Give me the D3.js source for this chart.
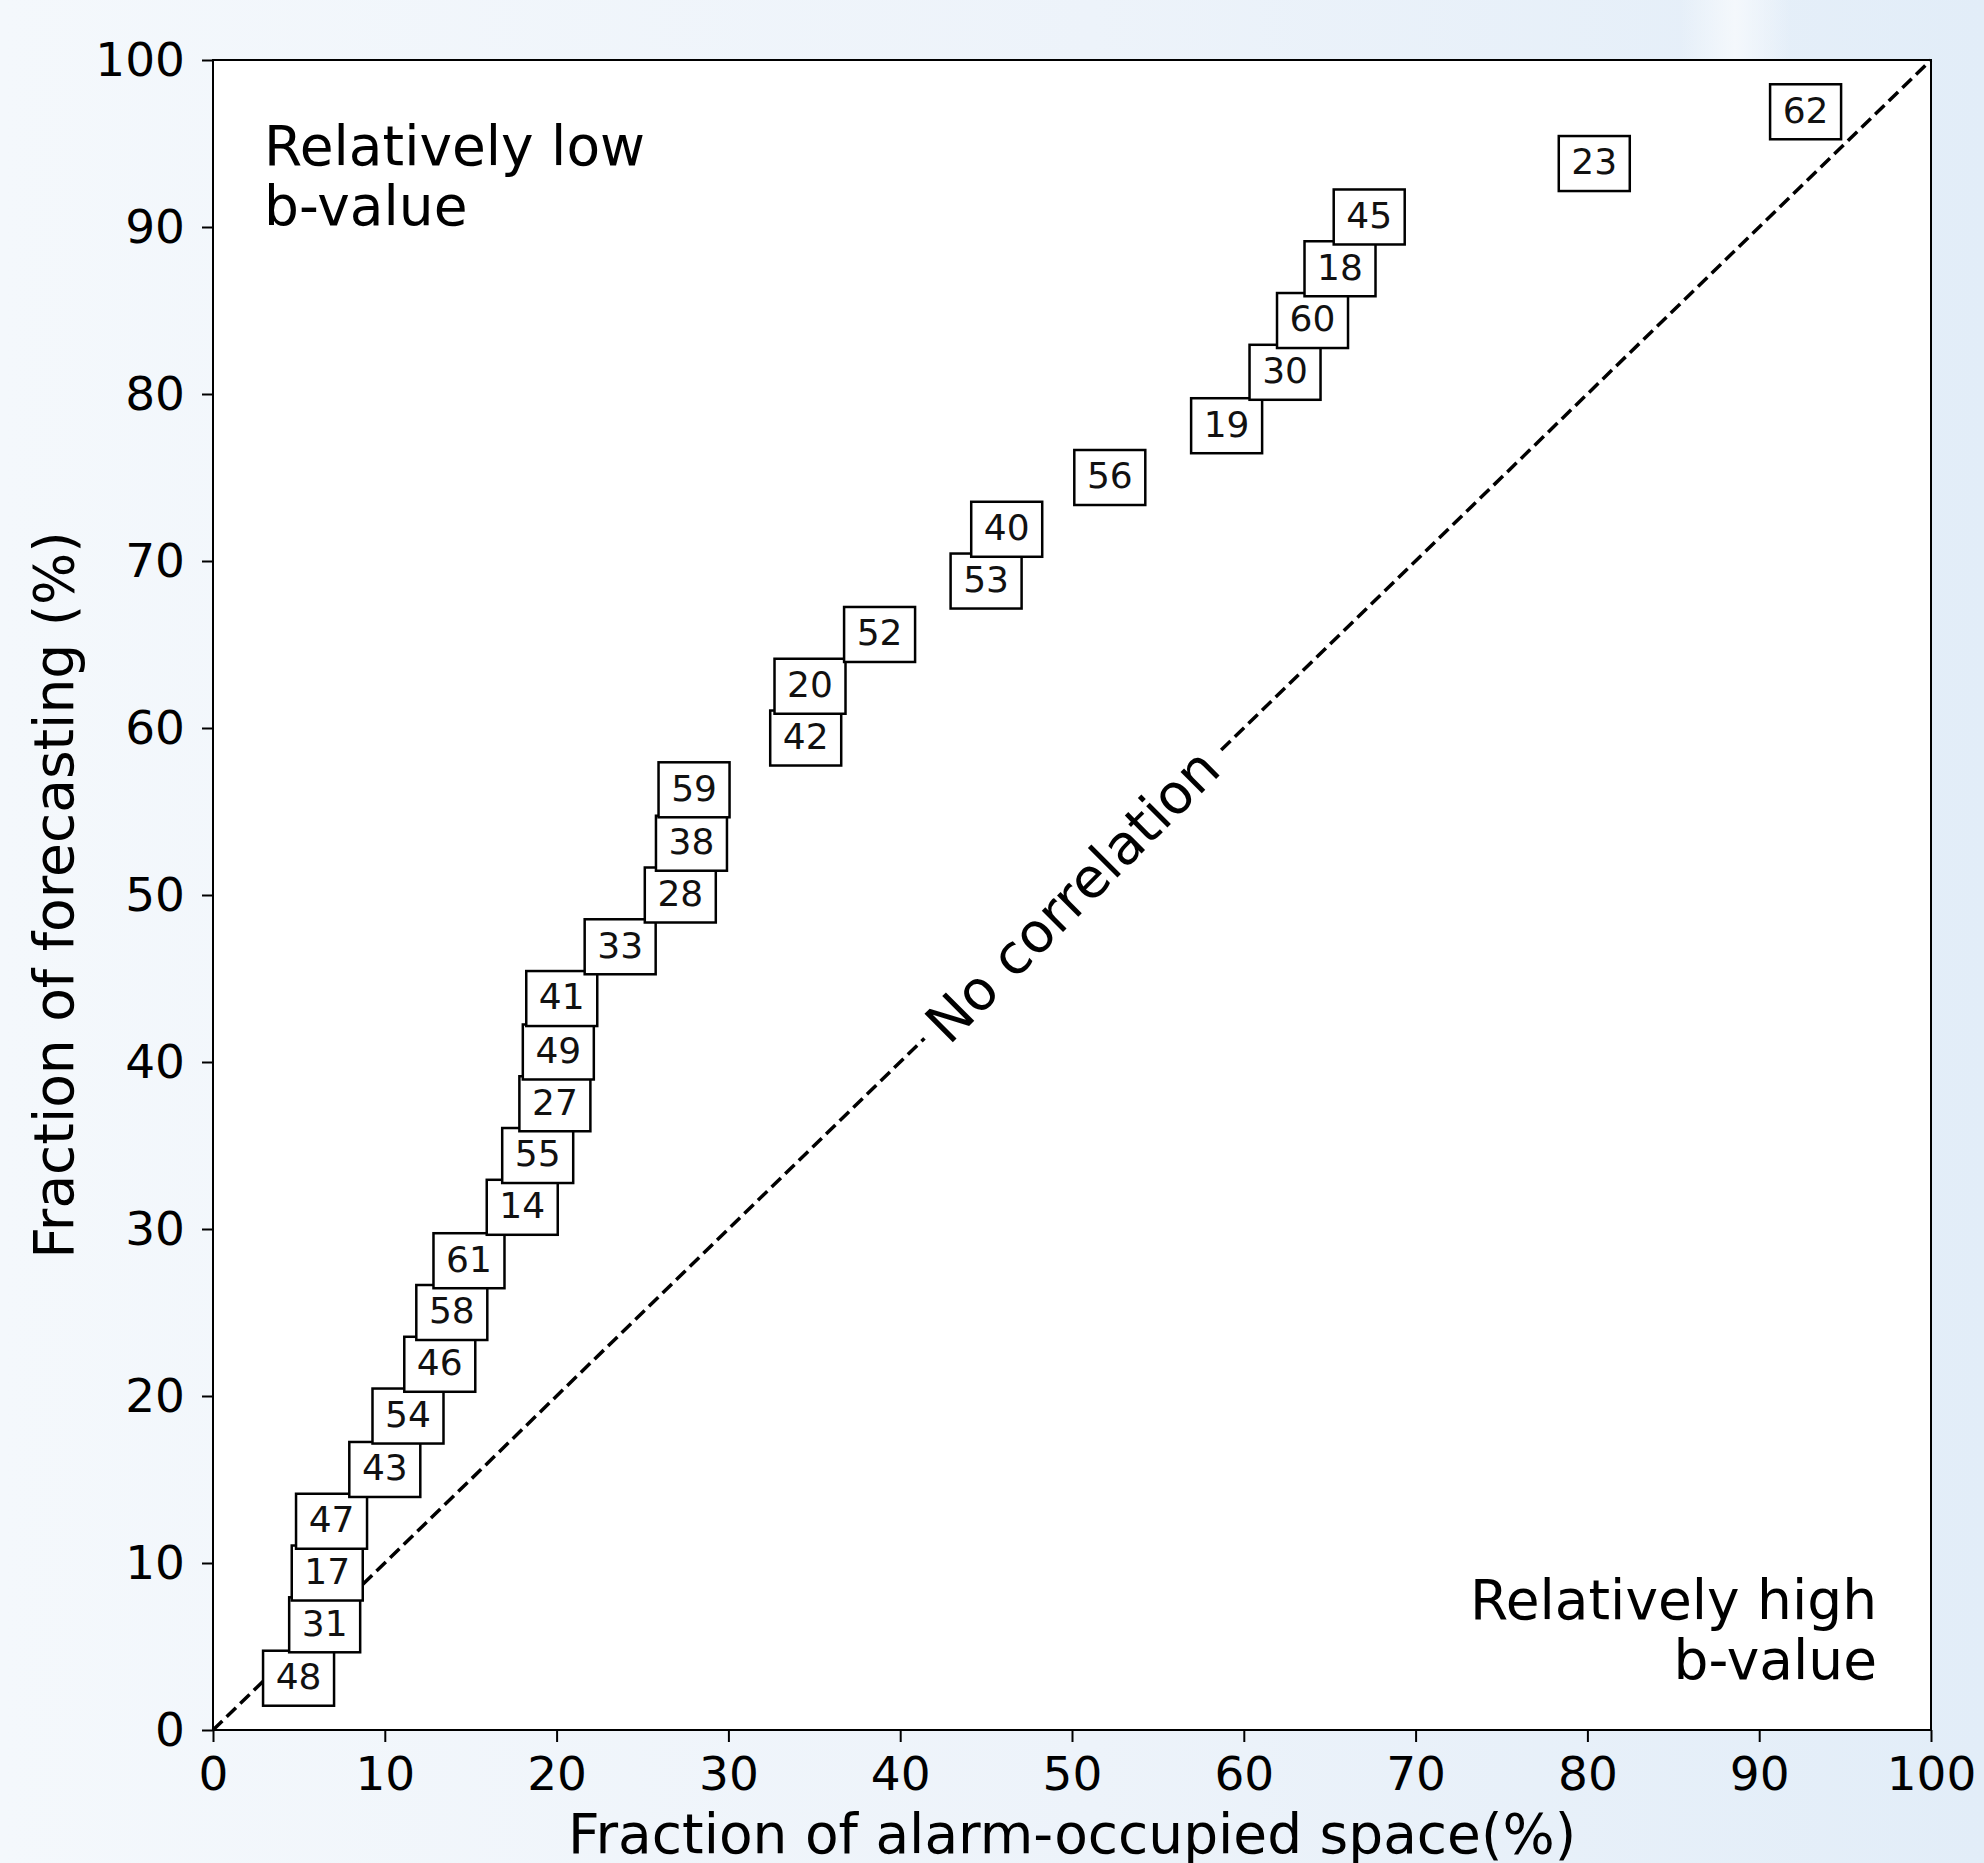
<!DOCTYPE html>
<html lang="en">
<head>
    <meta charset="UTF-8">
    <title>Alarm-occupied space vs forecasting</title>
    <script src="https://d3js.org/d3.v7.min.js"></script>
    <style>
        body { margin: 0; }
        svg { display: block; font-family: "DejaVu Sans", sans-serif; }
    </style>
</head>
<body>
    <script>
        // data (sorted by forecasting fraction)
        var ids = [48, 31, 17, 47, 43, 54, 46, 58, 61, 14, 55, 27, 49, 41, 33, 28,
                   38, 59, 42, 20, 52, 53, 40, 56, 19, 30, 60, 18, 45, 23, 62];
        var alarmSpace = [4.98, 6.5, 6.65, 6.9, 10.0, 11.35, 13.2, 13.9, 14.9, 18.0, 18.9,
                          19.9, 20.1, 20.3, 23.7, 27.2, 27.85, 28.0, 34.5, 34.75, 38.8,
                          45.0, 46.2, 52.2, 59.0, 62.4, 64.0, 65.6, 67.3, 80.4, 92.7];
        var forecasting = [3.1, 6.3, 9.4, 12.5, 15.6, 18.8, 21.9, 25.0, 28.1, 31.3, 34.4,
                           37.5, 40.6, 43.8, 46.9, 50.0, 53.1, 56.3, 59.4, 62.5, 65.6,
                           68.8, 71.9, 75.0, 78.1, 81.3, 84.4, 87.5, 90.6, 93.8, 96.9];
        var tickValues = [0, 10, 20, 30, 40, 50, 60, 70, 80, 90, 100];
        var diagonal = [0, 100];

        var w = 1984, h = 1863;
        // plot edges in pixels (note: "top" is reserved on window, so use px names)
        var pxLeft = 213, pxRight = 1931, pxTop = 60, pxBottom = 1730;

        var svg = d3.select("body").append("svg")
            .attr("width", w)
            .attr("height", h);

        // page background (light blue wash)
        var defs = svg.append("defs");
        var grad = defs.append("linearGradient").attr("id", "bg")
            .attr("x1", 0).attr("y1", 0).attr("x2", 1).attr("y2", 0);
        grad.append("stop").attr("offset", 0).attr("stop-color", "#f4f8fc");
        grad.append("stop").attr("offset", 0.55).attr("stop-color", "#edf3fa");
        grad.append("stop").attr("offset", 1).attr("stop-color", "#e2edf8");
        var band = defs.append("linearGradient").attr("id", "band")
            .attr("x1", 0).attr("y1", 0).attr("x2", 1).attr("y2", 0);
        band.append("stop").attr("offset", 0).attr("stop-color", "#f4f8fc").attr("stop-opacity", 0);
        band.append("stop").attr("offset", 0.5).attr("stop-color", "#f4f8fc").attr("stop-opacity", 1);
        band.append("stop").attr("offset", 1).attr("stop-color", "#f4f8fc").attr("stop-opacity", 0);

        svg.append("rect").attr("width", w).attr("height", h).attr("fill", "url(#bg)");
        svg.append("rect").attr("x", 1680).attr("width", 110).attr("height", 60)
            .attr("fill", "url(#band)");

        var x = d3.scaleLinear().domain([0, 100]).range([pxLeft, pxRight]);
        var y = d3.scaleLinear().domain([0, 100]).range([pxBottom, pxTop]);

        // plot area
        svg.append("rect")
            .attr("x", x(0)).attr("y", y(100))
            .attr("width", x(100) - x(0)).attr("height", y(0) - y(100))
            .attr("fill", "white");

        // no-correlation line
        svg.append("line")
            .attr("x1", x(diagonal[0])).attr("y1", y(diagonal[0]))
            .attr("x2", x(diagonal[1])).attr("y2", y(diagonal[1]))
            .attr("stroke", "black")
            .attr("stroke-width", 3.5)
            .attr("stroke-dasharray", "13,6");

        // label on the line, with white background
        var angle = -45;
        var lab = svg.append("g")
            .attr("transform", "translate(" + x(50) + "," + y(50) + ") rotate(" + angle + ")");
        var labText = lab.append("text")
            .attr("text-anchor", "middle")
            .attr("dy", "0.36em")
            .attr("font-size", 55)
            .text("No correlation");
        var bb = labText.node().getBBox();
        lab.insert("rect", "text")
            .attr("x", bb.x - 12).attr("y", bb.y - 4)
            .attr("width", bb.width + 24).attr("height", bb.height + 8)
            .attr("fill", "white");

        // numbered boxes
        var points = ids.map(function(d, i) {
            return { id: d, sx: alarmSpace[i], fy: forecasting[i] };
        });
        var boxW = 71, boxH = 55;

        var marks = svg.selectAll("g.mark")
            .data(points)
            .enter()
            .append("g")
            .attr("class", "mark")
            .attr("transform", function(d) {
                return "translate(" + x(d.sx) + "," + y(d.fy) + ")";
            });

        marks.append("rect")
            .attr("x", -boxW / 2).attr("y", -boxH / 2)
            .attr("width", boxW).attr("height", boxH)
            .attr("fill", "white")
            .attr("stroke", "black")
            .attr("stroke-width", 2.5);

        marks.append("text")
            .attr("text-anchor", "middle")
            .attr("dy", "0.3em")
            .attr("font-size", 36)
            .attr("fill", "#111")
            .text(function(d) { return d.id; });

        // frame
        svg.append("rect")
            .attr("x", x(0)).attr("y", y(100))
            .attr("width", x(100) - x(0)).attr("height", y(0) - y(100))
            .attr("fill", "none")
            .attr("stroke", "black")
            .attr("stroke-width", 2);

        // axes
        var xAxis = svg.append("g")
            .attr("transform", "translate(0," + pxBottom + ")")
            .call(d3.axisBottom(x).tickValues(tickValues).tickSize(12).tickPadding(15));
        var yAxis = svg.append("g")
            .attr("transform", "translate(" + pxLeft + ",0)")
            .call(d3.axisLeft(y).tickValues(tickValues).tickSize(11).tickPadding(17));

        [xAxis, yAxis].forEach(function(a) {
            a.select(".domain").remove();
            a.selectAll(".tick line").attr("stroke", "black").attr("stroke-width", 2);
            a.selectAll(".tick text")
                .attr("font-size", 47)
                .attr("font-family", "DejaVu Sans")
                .attr("fill", "black");
        });

        // axis titles
        svg.append("text")
            .attr("x", (pxLeft + pxRight) / 2)
            .attr("y", 1853)
            .attr("text-anchor", "middle")
            .attr("font-size", 55)
            .text("Fraction of alarm-occupied space(%)");

        svg.append("text")
            .attr("transform", "translate(73," + (pxTop + pxBottom) / 2 + ") rotate(-90)")
            .attr("text-anchor", "middle")
            .attr("font-size", 55)
            .text("Fraction of forecasting (%)");

        // corner notes
        var lowNote = svg.append("text")
            .attr("font-size", 55);
        lowNote.append("tspan").attr("x", 264).attr("y", 165).text("Relatively low");
        lowNote.append("tspan").attr("x", 264).attr("y", 225).text("b-value");

        var highNote = svg.append("text")
            .attr("text-anchor", "end")
            .attr("font-size", 55);
        highNote.append("tspan").attr("x", 1877).attr("y", 1619).text("Relatively high");
        highNote.append("tspan").attr("x", 1877).attr("y", 1679).text("b-value");
    </script>
</body>
</html>
